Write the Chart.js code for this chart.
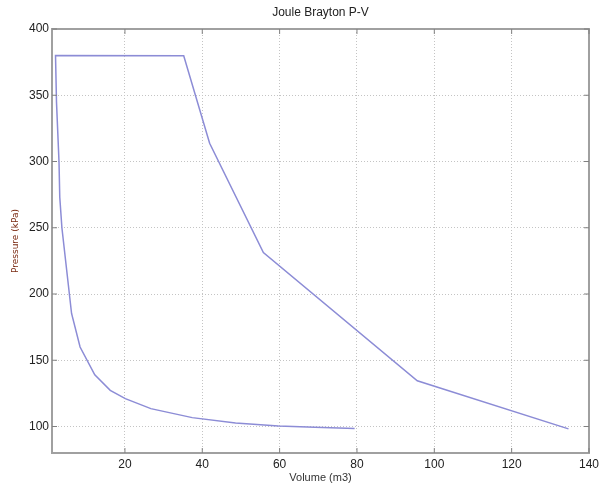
<!DOCTYPE html>
<html>
<head>
<meta charset="utf-8">
<script src="https://cdn.jsdelivr.net/npm/chart.js@4"></script>
<style>
  html, body { margin: 0; padding: 0; background: #fff; }
  #wrap { width: 603px; height: 489px; }
</style>
</head>
<body>
<div id="wrap"><canvas id="pv"></canvas></div>
<script>

// cycle path (volume m3, pressure kPa)
const volume = [79.4, 69.1, 59.7, 48.6, 37.4, 26.7, 20.1, 16.2, 12.2, 8.4, 6.2, 3.7, 3.15, 2.95, 2.3, 2.05,
                35.2, 41.9, 55.8, 95.6, 134.7];
const pressure = [98.4, 99.4, 100.4, 102.6, 106.7, 113.5, 121, 127.3, 139, 160, 185.3, 250, 273, 300, 345, 380,
                  379.8, 313.8, 231.3, 134.5, 98.2];

const xTicks = [20, 40, 60, 80, 100, 120, 140];
const yTicks = [100, 150, 200, 250, 300, 350, 400];

const points = volume.map((v, i) => ({ x: v, y: pressure[i] }));

// box round the plot plus short inside ticks, like the original figure
const framePlugin = {
    id: 'frame',
    afterDraw(chart) {
        const { ctx, chartArea: a, scales } = chart;
        ctx.save();
        ctx.strokeStyle = '#a0a0a0';
        ctx.lineWidth = 2;
        ctx.strokeRect(a.left, a.top, a.right - a.left, a.bottom - a.top);
        ctx.lineWidth = 1;
        ctx.strokeStyle = '#808080';
        ctx.beginPath();
        xTicks.forEach(v => {
            const px = scales.x.getPixelForValue(v);
            ctx.moveTo(px, a.bottom); ctx.lineTo(px, a.bottom - 5);
            ctx.moveTo(px, a.top); ctx.lineTo(px, a.top + 5);
        });
        yTicks.forEach(v => {
            const py = scales.y.getPixelForValue(v);
            ctx.moveTo(a.left, py); ctx.lineTo(a.left + 5, py);
            ctx.moveTo(a.right, py); ctx.lineTo(a.right - 5, py);
        });
        ctx.stroke();
        ctx.restore();
    }
};

const ctx = document.getElementById('pv');

new Chart(ctx, {
    type: 'scatter',
    data: {
        datasets: [
            {
                label: 'P-V',
                data: points,
                showLine: true,
                borderColor: '#8c8cd6',
                borderWidth: 1.5,
                pointRadius: 0,
                tension: 0,
            }
        ],
    },
    options: {
        responsive: true,
        maintainAspectRatio: false,
        animation: false,
        layout: {
            padding: { left: 0, right: 14, top: 0, bottom: 0 }
        },
        plugins: {
            legend: { display: false },
            tooltip: { enabled: false },
            title: {
                display: true,
                text: 'Joule Brayton P-V',
                fullSize: false,
                color: '#222',
                font: { family: 'Liberation Sans', size: 12, weight: 'normal' },
                padding: { top: 5, bottom: 9.6 }
            }
        },
        scales: {
            x: {
                type: 'linear',
                min: 1.14,
                max: 140,
                afterBuildTicks: s => { s.ticks = xTicks.map(v => ({ value: v })); },
                afterFit: s => { s.height = 36; },
                grid: {
                    color: '#c4c4c4',
                    lineWidth: 1,
                    drawTicks: false,
                },
                border: { display: false, dash: [1, 2] },
                ticks: {
                    color: '#222',
                    padding: 4,
                    maxRotation: 0,
                    font: { family: 'Liberation Sans', size: 12 }
                },
                title: {
                    display: true,
                    text: 'Volume (m3)',
                    color: '#333',
                    font: { family: 'Liberation Sans', size: 11 },
                    padding: { top: 0, bottom: 4.4 }
                }
            },
            y: {
                type: 'linear',
                min: 80,
                max: 400,
                afterBuildTicks: s => { s.ticks = yTicks.map(v => ({ value: v })); },
                afterFit: s => { s.width = 52; },
                grid: {
                    color: '#c4c4c4',
                    lineWidth: 1,
                    drawTicks: false,
                },
                border: { display: false, dash: [1, 2] },
                ticks: {
                    color: '#222',
                    padding: 3,
                    font: { family: 'Liberation Sans', size: 12 }
                },
                title: {
                    display: true,
                    text: 'Pressure (kPa)',
                    color: '#7a2a12',
                    font: { family: 'DejaVu Sans', size: 9 },
                    padding: { top: 10.6, bottom: 0 }
                }
            }
        }
    },
    plugins: [framePlugin]
});
</script>
</body>
</html>
